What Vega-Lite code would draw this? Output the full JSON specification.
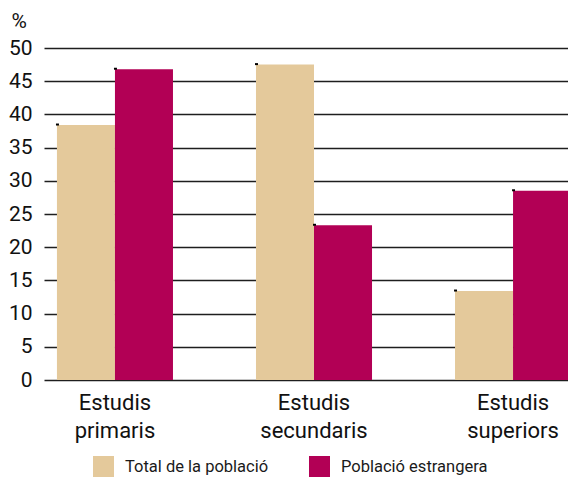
{
  "$schema": "https://vega.github.io/schema/vega-lite/v6.json",
  "width": 524,
  "height": 332,
  "autosize": {"type": "none"},
  "padding": {"left": 44, "top": 48, "right": 0, "bottom": 105},
  "background": "white",
  "config": {
    "view": {"stroke": null},
    "font": "Roboto",
    "axis": {"labelFont": "Roboto", "titleFont": "Roboto"},
    "legend": {"labelFont": "Roboto"}
  },
  "data": {
    "values": [
      {"nivell": "Estudis primaris", "grup": "Total de la població", "valor": 38.4},
      {"nivell": "Estudis primaris", "grup": "Població estrangera", "valor": 46.8},
      {"nivell": "Estudis secundaris", "grup": "Total de la població", "valor": 47.5},
      {"nivell": "Estudis secundaris", "grup": "Població estrangera", "valor": 23.3},
      {"nivell": "Estudis superiors", "grup": "Total de la població", "valor": 13.4},
      {"nivell": "Estudis superiors", "grup": "Població estrangera", "valor": 28.5}
    ]
  },
  "encoding": {
    "x": {
      "field": "nivell",
      "type": "nominal",
      "sort": null,
      "scale": {"range": [0, 540], "paddingInner": 0.417, "paddingOuter": 0.065},
      "axis": {
        "title": null,
        "domain": false,
        "ticks": false,
        "labelAngle": 0,
        "labelFontSize": 22,
        "labelColor": "#111111",
        "labelBaseline": "top",
        "labelPadding": 12,
        "labelLineHeight": 28,
        "labelExpr": "split(datum.label, ' ')"
      }
    },
    "y": {
      "field": "valor",
      "type": "quantitative",
      "scale": {"domain": [0, 50], "nice": false},
      "axis": {
        "title": "%",
        "titleAngle": 0,
        "titleFontSize": 21,
        "titleFontWeight": "normal",
        "titleColor": "#111111",
        "titleAlign": "left",
        "titleBaseline": "middle",
        "titleX": -33,
        "titleY": -27,
        "values": [0, 5, 10, 15, 20, 25, 30, 35, 40, 45, 50],
        "domain": false,
        "ticks": false,
        "labelPadding": 12,
        "labelFontSize": 21,
        "labelColor": "#111111",
        "grid": true,
        "gridColor": "#1e1e1e",
        "gridWidth": 1.3,
        "gridOpacity": 1
      }
    }
  },
  "layer": [
    {
      "mark": {"type": "bar"},
      "encoding": {
        "xOffset": {
          "field": "grup",
          "type": "nominal",
          "sort": ["Total de la població", "Població estrangera"],
          "scale": {"paddingInner": 0, "paddingOuter": 0}
        },
        "color": {
          "field": "grup",
          "type": "nominal",
          "sort": ["Total de la població", "Població estrangera"],
          "scale": {"range": ["#E4C99B", "#B20055"]},
          "legend": {
            "title": null,
            "orient": "none",
            "direction": "horizontal",
            "legendX": 49,
            "legendY": 408,
            "symbolType": "square",
            "symbolSize": 441,
            "symbolStrokeWidth": 0,
            "labelFontSize": 16.5,
            "labelColor": "#1a1a1a",
            "labelOffset": 11,
            "columnPadding": 40,
            "padding": 0
          }
        }
      }
    },
    {
      "mark": {
        "type": "tick",
        "color": "#000000",
        "size": 3,
        "thickness": 2,
        "opacity": 1,
        "xOffset": {"expr": "datum.grup == 'Total de la població' ? -57.5 : 0.5"},
        "yOffset": -0.5
      },
      "encoding": {}
    }
  ]
}
